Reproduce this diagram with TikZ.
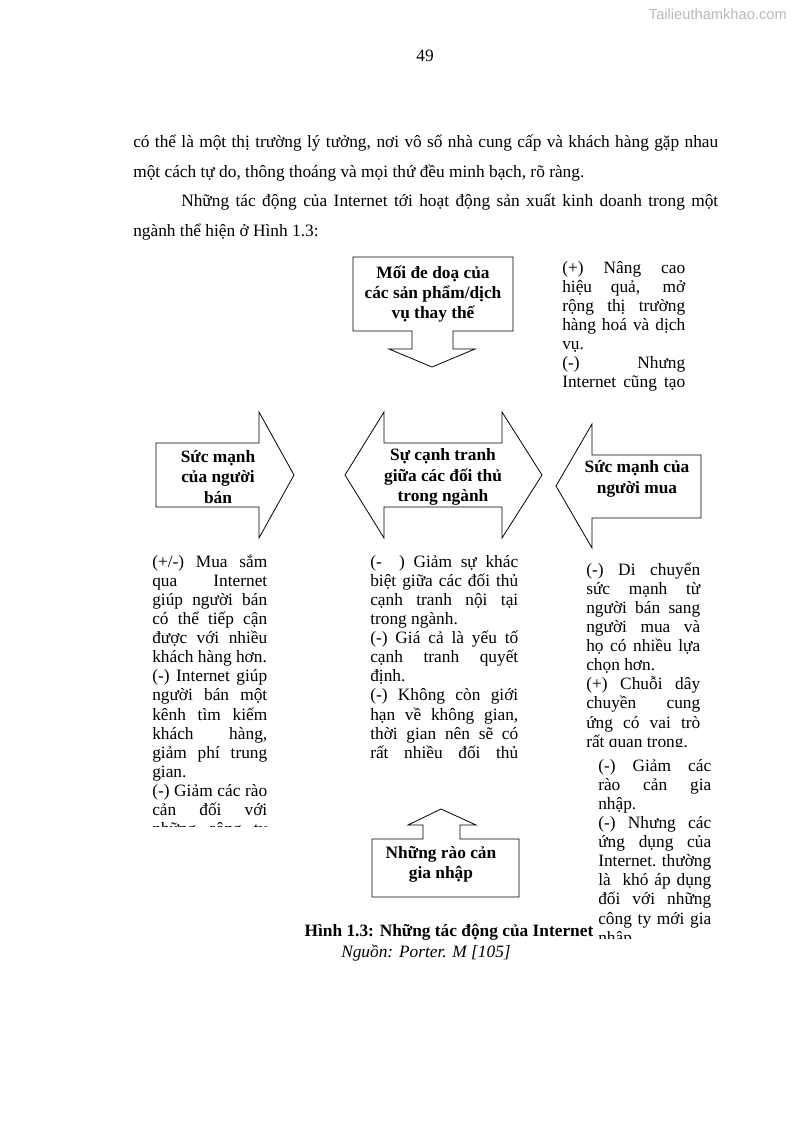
\documentclass[tikz,border=0pt]{standalone}
\usepackage{fontspec}
\setmainfont{Liberation Serif}
\newfontfamily\markfont{Liberation Sans}
% one justified line, one loose line, a stack of lines
\newcommand{\jl}[1]{\hbox to \hsize{#1}}
\newcommand{\nl}[1]{\hbox{#1}}
\newcommand{\notetext}[2]{\vtop{\hsize=#1\lineskiplimit=-20pt\relax#2}}

\begin{document}
\begin{tikzpicture}[x=0.75pt, y=-0.75pt,
    block/.style={draw=black, line width=0.6pt, fill=white, line join=miter},
    heading/.style={font=\fontsize{13}{15.2}\selectfont\bfseries, align=center, inner sep=0pt},
    note/.style={font=\fontsize{13}{14.3}\selectfont, anchor=base west, inner sep=0pt},
    body/.style={font=\fontsize{13}{22.3}\selectfont, anchor=base west, inner sep=0pt}
]
    \useasboundingbox (0,0) rectangle (794,1123);
    \fill[white] (0,0) rectangle (794,1123);

    % Page header and running text
    \node[anchor=east, inner sep=0pt, text=gray!55, font=\markfont\fontsize{11}{13}\selectfont] (mark) at (787,14) {Tailieuthamkhao.com};
    \node[body, anchor=base] (pageno) at (425,62) {49};
    \node[body] (para) at (133,147.5) {\notetext{438.75pt}{%
        \jl{có thể là một thị trường lý tưởng, nơi vô số nhà cung cấp và khách hàng gặp nhau}
        \nl{một cách tự do, thông thoáng và mọi thứ đều minh bạch, rõ ràng.}
        \jl{\hskip36pt Những tác động của Internet tới hoạt động sản xuất kinh doanh trong một}
        \nl{ngành thể hiện ở Hình 1.3:}}};

    % Block arrows
    \draw[block] (353,257) -- (513,257) -- (513,331) -- (453,331) -- (453,349) -- (475,349)
        -- (432,367) -- (389,349) -- (412,349) -- (412,331) -- (353,331) -- cycle;
    \draw[block] (156,443) -- (259,443) -- (259,412) -- (294,475) -- (259,538) -- (259,507)
        -- (156,507) -- cycle;
    \draw[block] (345,475) -- (384,412) -- (384,443) -- (502,443) -- (502,412) -- (542,475)
        -- (502,538) -- (502,507) -- (384,507) -- (384,538) -- cycle;
    \draw[block] (701,455) -- (592,455) -- (592,424) -- (556,486) -- (592,548) -- (592,518)
        -- (701,518) -- cycle;
    \draw[block] (372,839) -- (423,839) -- (423,825) -- (408,825) -- (441,809) -- (476,825)
        -- (460,825) -- (460,839) -- (519,839) -- (519,897) -- (372,897) -- cycle;

    % Forces
    \node[heading] (threat)  at (433,294) {Mối đe doạ của\\các sản phẩm/dịch\\vụ thay thế};
    \node[heading] (seller)  at (218,477) {Sức mạnh\\của người\\bán};
    \node[heading] (rivalry) at (443,477) {Sự cạnh tranh\\giữa các đối thủ\\trong ngành};
    \node[heading] (buyer)   at (637,479) {Sức mạnh của\\người mua};
    \node[heading] (entry)   at (441,864) {Những rào cản\\gia nhập};

    % Notes (cut off like the text boxes)
    \begin{scope}
        \clip (555,258) rectangle (700,396);
        \node[note] (subnote) at (562,273.5) {\notetext{92.25pt}{%
            \jl{(+) Nâng cao}
            \jl{hiệu quả, mở}
            \jl{rộng thị trường}
            \jl{hàng hoá và dịch}
            \nl{vụ.}
            \jl{(-) Nhưng}
            \jl{Internet cũng tạo}}};
    \end{scope}
    \begin{scope}
        \clip (145,545) rectangle (275,826);
        \node[note] (sellernote) at (152,567.5) {\notetext{86.25pt}{%
            \jl{(+/-) Mua sắm}
            \jl{qua Internet}
            \jl{giúp người bán}
            \jl{có thể tiếp cận}
            \jl{được với nhiều}
            \nl{khách hàng hơn.}
            \jl{(-) Internet giúp}
            \jl{người bán một}
            \jl{kênh tìm kiếm}
            \jl{khách hàng,}
            \jl{giảm phí trung}
            \nl{gian.}
            \jl{(-) Giảm các rào}
            \jl{cản đối với}
            \jl{những công ty}}};
    \end{scope}
    \begin{scope}
        \clip (362,545) rectangle (526,762);
        \node[note] (rivalnote) at (370,567.5) {\notetext{111pt}{%
            \jl{(-\ \ ) Giảm sự khác}
            \jl{biệt giữa các đối thủ}
            \jl{cạnh tranh nội tại}
            \nl{trong ngành.}
            \jl{(-) Giá cả là yếu tố}
            \jl{cạnh tranh quyết}
            \nl{định.}
            \jl{(-) Không còn giới}
            \jl{hạn về không gian,}
            \jl{thời gian nên sẽ có}
            \jl{rất nhiều đối thủ}}};
    \end{scope}
    \begin{scope}
        \clip (578,553) rectangle (710,746);
        \node[note] (buyernote) at (586,575.5) {\notetext{85.5pt}{%
            \jl{(-) Di chuyển}
            \jl{sức mạnh từ}
            \jl{người bán sang}
            \jl{người mua và}
            \jl{họ có nhiều lựa}
            \nl{chọn hơn.}
            \jl{(+) Chuỗi dây}
            \jl{chuyền cung}
            \jl{ứng có vai trò}
            \nl{rất quan trọng.}}};
    \end{scope}
    \begin{scope}
        \clip (593,752) rectangle (720,938);
        \node[note] (entrynote) at (598,771.5) {\notetext{84.75pt}{%
            \jl{(-) Giảm các}
            \jl{rào cản gia}
            \nl{nhập.}
            \jl{(-) Nhưng các}
            \jl{ứng dụng của}
            \jl{Internet. thường}
            \jl{là\ \ khó áp dụng}
            \jl{đối với những}
            \jl{công ty mới gia}
            \nl{nhập}}};
    \end{scope}

    % Caption
    \node[anchor=base, inner sep=0pt, font=\fontsize{13}{15}\selectfont\bfseries] (caption) at (449,936) {Hình 1.3: Những tác động của Internet};
    \node[anchor=base, inner sep=0pt, font=\fontsize{13}{15}\selectfont\itshape] (source) at (426,957) {Nguồn: Porter. M [105]};
\end{tikzpicture}
\end{document}
